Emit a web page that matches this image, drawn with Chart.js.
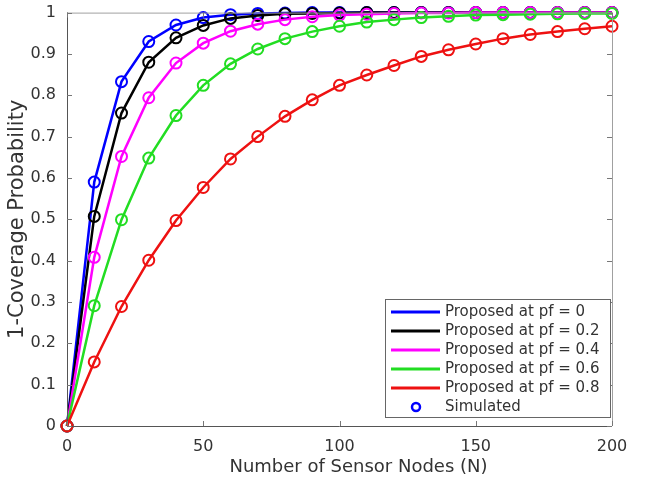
<!DOCTYPE html>
<html>
<head>
<meta charset="utf-8">
<script src="https://cdn.jsdelivr.net/npm/chart.js@4.4.0/dist/chart.umd.min.js"></script>
<style>
  html, body { margin: 0; padding: 0; background: #fff; }
  #wrap { width: 645px; height: 481px; }
</style>
</head>
<body>
<div id="wrap"><canvas id="cov" width="645" height="481"></canvas></div>
<script>
// Number of sensor nodes (x) and the 1-coverage probability per failure rate pf
const nodes = [0, 10, 20, 30, 40, 50, 60, 70, 80, 90, 100, 110, 120, 130, 140, 150, 160, 170, 180, 190, 200];
const pf0  = [0, 0.590, 0.833, 0.930, 0.970, 0.988, 0.995, 0.998, 0.999, 1, 1, 1, 1, 1, 1, 1, 1, 1, 1, 1, 1];
const pf02 = [0, 0.507, 0.757, 0.880, 0.939, 0.969, 0.986, 0.993, 0.997, 0.998, 0.999, 1, 1, 1, 1, 1, 1, 1, 1, 1, 1];
const pf04 = [0, 0.408, 0.652, 0.794, 0.878, 0.926, 0.955, 0.972, 0.983, 0.990, 0.994, 0.996, 0.998, 0.999, 0.999, 1, 1, 1, 1, 1, 1];
const pf06 = [0, 0.291, 0.499, 0.648, 0.751, 0.824, 0.876, 0.912, 0.937, 0.954, 0.967, 0.977, 0.983, 0.988, 0.991, 0.994, 0.995, 0.996, 0.997, 0.998, 0.998];
const pf08 = [0, 0.155, 0.289, 0.401, 0.497, 0.577, 0.646, 0.700, 0.749, 0.789, 0.824, 0.849, 0.872, 0.894, 0.910, 0.924, 0.937, 0.947, 0.954, 0.961, 0.967];

const seriesLabels = ['Proposed at pf = 0', 'Proposed at pf = 0.2', 'Proposed at pf = 0.4', 'Proposed at pf = 0.6', 'Proposed at pf = 0.8'];
const seriesColors = ['#0000ff', '#000000', '#ff00ff', '#22dd22', '#ee1111'];
const seriesData = [pf0, pf02, pf04, pf06, pf08];
const simLabel = 'Simulated';
const xTicks = [0, 50, 100, 150, 200];
const xTitle = 'Number of Sensor Nodes (N)';
const yTitle = '1-Coverage Probability';

const FONT = "'DejaVu Sans', Verdana, sans-serif";
const TXT = '#333333';

const datasets = seriesData.map((ys, i) => ({
  label: seriesLabels[i],
  data: ys.map((y, k) => ({ x: nodes[k], y })),
  borderColor: seriesColors[i],
  backgroundColor: 'transparent',
  borderWidth: 2.5,
  pointStyle: 'circle',
  pointRadius: 5.5,
  pointBorderWidth: 2,
  pointBorderColor: seriesColors[i],
  pointBackgroundColor: 'rgba(0,0,0,0)',
  tension: 0,
  clip: false,
  order: seriesData.length - i, // later curves sit on top
}));

// Box frame with inward ticks, MATLAB style
const frame = {
  id: 'frame',
  afterDraw(chart) {
    const { ctx, chartArea: a, scales: { x, y } } = chart;
    ctx.save();
    ctx.lineWidth = 1;
    ctx.strokeStyle = '#a0a0a0';
    ctx.beginPath();
    ctx.moveTo(a.left, a.top + 0.5); ctx.lineTo(a.right, a.top + 0.5);
    ctx.moveTo(a.right + 0.5, a.top); ctx.lineTo(a.right + 0.5, a.bottom);
    ctx.stroke();
    ctx.strokeStyle = '#555555';
    ctx.beginPath();
    ctx.moveTo(a.left + 0.5, a.top); ctx.lineTo(a.left + 0.5, a.bottom);
    ctx.moveTo(a.left, a.bottom + 0.5); ctx.lineTo(a.right, a.bottom + 0.5);
    ctx.stroke();
    const len = 5;
    ctx.strokeStyle = '#777777';
    ctx.beginPath();
    x.ticks.forEach(t => {
      const px = Math.round(x.getPixelForValue(t.value)) + 0.5;
      ctx.moveTo(px, a.bottom); ctx.lineTo(px, a.bottom - len);
      ctx.moveTo(px, a.top); ctx.lineTo(px, a.top + len);
    });
    y.ticks.forEach(t => {
      const py = Math.round(y.getPixelForValue(t.value)) + 0.5;
      ctx.moveTo(a.left, py); ctx.lineTo(a.left + len, py);
      ctx.moveTo(a.right, py); ctx.lineTo(a.right - len, py);
    });
    ctx.stroke();

    // axis titles
    ctx.fillStyle = TXT;
    ctx.textAlign = 'center';
    ctx.textBaseline = 'middle';
    ctx.font = '18px ' + FONT;
    ctx.fillText(xTitle, (a.left + a.right) / 2 + 19, a.bottom + 41);
    ctx.translate(18, (a.top + a.bottom) / 2);
    ctx.rotate(-Math.PI / 2);
    ctx.font = '21px ' + FONT;
    ctx.fillText(yTitle, 0, 0);
    ctx.restore();
  },
};

// Legend box in the lower right corner of the plot
const boxLegend = {
  id: 'boxLegend',
  afterDraw(chart) {
    const { ctx, chartArea: a } = chart;
    const w = 225, rowH = 19, h = 118;
    const bx = a.right - 2 - w, by = a.bottom - 9 - h;
    ctx.save();
    ctx.fillStyle = '#ffffff';
    ctx.fillRect(bx, by, w, h);
    ctx.strokeStyle = '#666666';
    ctx.lineWidth = 1;
    ctx.strokeRect(bx + 0.5, by + 0.5, w, h);
    ctx.font = '15px ' + FONT;
    ctx.textBaseline = 'middle';
    ctx.fillStyle = TXT;
    const y0 = by + 13;
    seriesLabels.forEach((lab, i) => {
      const ry = y0 + i * rowH;
      ctx.strokeStyle = seriesColors[i];
      ctx.lineWidth = 3;
      ctx.beginPath(); ctx.moveTo(bx + 6, ry); ctx.lineTo(bx + 55, ry); ctx.stroke();
      ctx.fillText(lab, bx + 60, ry);
    });
    const sy = y0 + seriesLabels.length * rowH;
    ctx.strokeStyle = seriesColors[0];
    ctx.lineWidth = 2.5;
    ctx.beginPath(); ctx.arc(bx + 31, sy, 4, 0, Math.PI * 2); ctx.stroke();
    ctx.fillText(simLabel, bx + 60, sy);
    ctx.restore();
  },
};

new Chart(document.getElementById('cov'), {
  type: 'line',
  data: { datasets },
  options: {
    responsive: false,
    animation: false,
    layout: { padding: { top: 11, right: 33, left: 0, bottom: 0 } },
    plugins: { legend: { display: false }, tooltip: { enabled: false } },
    scales: {
      x: {
        type: 'linear', min: 0, max: 200,
        afterBuildTicks: s => { s.ticks = xTicks.map(v => ({ value: v })); },
        afterFit: s => { s.height = 55; },
        grid: { display: false },
        border: { display: false },
        ticks: { color: TXT, font: { family: FONT, size: 16 }, padding: 3 },
      },
      y: {
        min: 0, max: 1,
        afterFit: s => { s.width = 67; },
        grid: { display: false },
        border: { display: false },
        ticks: { stepSize: 0.1, color: TXT, font: { family: FONT, size: 16 }, padding: 3,
                 callback: v => String(+v.toFixed(1)) },
      },
    },
  },
  plugins: [frame, boxLegend],
});
</script>
</body>
</html>
